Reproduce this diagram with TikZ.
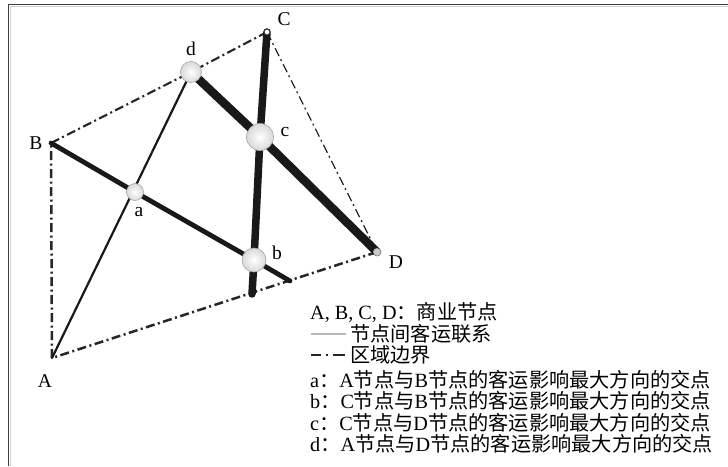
\documentclass[tikz,border=0pt]{standalone}
\usepackage{fontspec}
\setmainfont{Liberation Serif}
\newfontfamily\cjk{Noto Sans CJK SC}
\newcommand\zh[1]{{\cjk #1}}
\begin{document}
\begin{tikzpicture}[x=1pt,y=-1pt,
  bnd/.style={line width=#1, dash pattern=on 9pt off 3.5pt on 2pt off 3.5pt, black!85},
  link/.style={line width=#1, line cap=round, black!90},
  hub/.style={circle, draw=gray!70, line width=0.6pt, inner color=white, outer color=gray!30, minimum size=#1, inner sep=0pt},
  lbl/.style={font=\fontsize{19.5}{21}\selectfont, inner sep=0pt},
  leg/.style={font=\fontsize{20.2}{21}\selectfont, anchor=west, inner sep=0pt}]
\useasboundingbox (0,0) rectangle (728,466);
\fill[white] (0,0) rectangle (728,466);
% frame
\draw[gray!35, line width=1pt] (10,466) -- (10,6) -- (728,6);
\draw[black!75, line width=1.4pt] (8.5,466) -- (8.5,4.5) -- (728,4.5);
% main points
\coordinate (A) at (52,358);
\coordinate (B) at (51,143);
\coordinate (C) at (267,32);
\coordinate (D) at (377,252);
\coordinate (e1) at (290,281);
\coordinate (e2) at (252,294);
\coordinate (pa) at (135,192);
\coordinate (pb) at (254,260);
\coordinate (pc) at (260,137);
\coordinate (pd) at (191,72);
% boundary
\draw[bnd=2.5pt] (A) -- (B);
\draw[bnd=2.1pt] (B) -- (pd) -- (C);
\draw[bnd=1.2pt] (C) -- (D);
\draw[bnd=2.5pt] (D) -- (A);
% links
\draw[link=2.2pt] (A) -- (pd);
\draw[link=4.8pt] (B) -- (pa) -- (pb) -- (e1);
\draw[link=7.5pt] (C) -- (pc) -- (pb) -- (e2);
\draw[link=8.5pt] (pd) -- (pc) -- (D);
% end marks
\node[circle, draw=black!80, fill=white, line width=1pt, minimum size=6pt, inner sep=0pt] (mC) at (C) {};
\node[circle, draw=gray!60, fill=gray!40, line width=0.8pt, minimum size=7pt, inner sep=0pt] (mD) at (D) {};
% hubs
\node[hub=17pt] (a) at (pa) {};
\node[hub=24pt] (b) at (pb) {};
\node[hub=27pt] (c) at (pc) {};
\node[hub=21pt] (d) at (pd) {};
% labels
\node[lbl] (lA) at (45,381) {A};
\node[lbl] (lB) at (36,143) {B};
\node[lbl] (lC) at (284,19) {C};
\node[lbl] (lD) at (396,262) {D};
\node[lbl] (la) at (139,212) {a};
\node[lbl] (lb) at (277,253) {b};
\node[lbl] (lc) at (285,132) {c};
\node[lbl] (ld) at (191,49) {d};
% legend
\node[leg] (g1) at (310,313) {A, B, C, D\zh{：商业节点}};
\coordinate (s1) at (311,334);
\coordinate (s2) at (346,334);
\draw[gray!55, line width=1.8pt] (s1) -- (s2);
\node[leg] (g2) at (350,334) {\zh{节点间客运联系}};
\coordinate (t1) at (311,355);
\coordinate (t2) at (346,355);
\draw[black!85, line width=2.2pt, dash pattern=on 10pt off 5pt on 1.5pt off 5pt on 12pt] (t1) -- (t2);
\node[leg] (g3) at (350,355) {\zh{区域边界}};
\node[leg] (g4) at (310,380) {a\zh{：}A\zh{节点与}B\zh{节点的客运影响最大方向的交点}};
\node[leg] (g5) at (310,401) {b\zh{：}C\zh{节点与}B\zh{节点的客运影响最大方向的交点}};
\node[leg] (g6) at (310,423) {c\zh{：}C\zh{节点与}D\zh{节点的客运影响最大方向的交点}};
\node[leg] (g7) at (310,444) {d\zh{：}A\zh{节点与}D\zh{节点的客运影响最大方向的交点}};
\end{tikzpicture}
\end{document}
